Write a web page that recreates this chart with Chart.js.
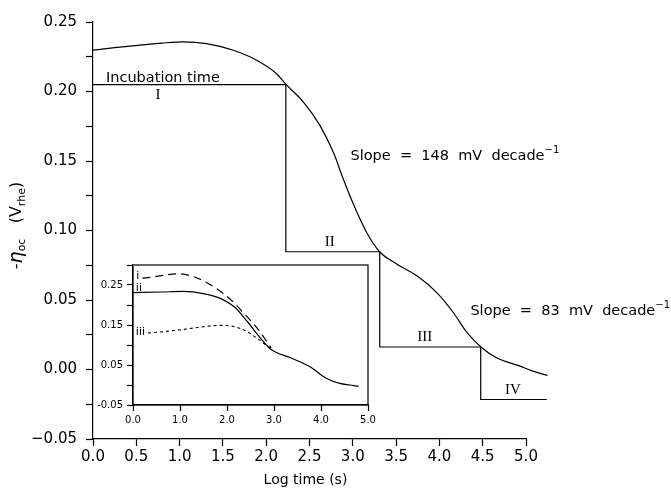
<!DOCTYPE html>
<html>
<head>
<meta charset="utf-8">
<script src="https://cdn.jsdelivr.net/npm/chart.js@4.4.1/dist/chart.umd.min.js"></script>
<style>
    body { margin: 0; background: #fff; }
    #wrap { position: relative; width: 671px; height: 488px; }
    #mainChart { position: absolute; left: 0; top: 0; }
    #insetChart { position: absolute; left: 90px; top: 255px; }
</style>
</head>
<body>
<div id="wrap">
    <canvas id="mainChart" width="671" height="488"></canvas>
    <canvas id="insetChart" width="290" height="175"></canvas>
</div>
<script>
// main curve, log time (s) vs -eta_oc (V_rhe)
const curveX = [0, 0.25, 0.54, 0.8, 1.04, 1.31, 1.62, 1.89, 2.12, 2.22, 2.43, 2.62, 2.78, 2.89, 3.01, 3.16, 3.31, 3.51, 3.74, 3.97, 4.16, 4.32, 4.48, 4.66, 4.93, 5.08, 5.25];
const curveY = [0.2297, 0.2315, 0.2333, 0.2348, 0.2357, 0.2345, 0.2297, 0.2225, 0.2128, 0.2056, 0.1924, 0.1756, 0.1555, 0.137, 0.1185, 0.0986, 0.0847, 0.0758, 0.0674, 0.0553, 0.041, 0.0265, 0.0162, 0.0084, 0.0024, -0.0012, -0.0043];

// stages I - IV
const stepX = [0, 2.227, 2.227, 3.311, 3.311, 4.477, 4.477, 5.24];
const stepY = [0.205, 0.205, 0.0847, 0.0847, 0.0162, 0.0162, -0.0216, -0.0216];

// inset curves i, ii, iii
const iX = [0.2, 0.42, 0.95, 1.31, 1.73, 2.09, 2.4, 2.65, 2.94];
const iY = [0.267, 0.27, 0.278, 0.27, 0.245, 0.212, 0.174, 0.141, 0.093];
const iiX = [0, 0.6, 1.06, 1.52, 1.87, 2.16, 2.44, 2.72, 2.94, 3.35, 3.76, 4.11, 4.4, 4.61, 4.8];
const iiY = [0.231, 0.2325, 0.234, 0.228, 0.216, 0.195, 0.1575, 0.116, 0.089, 0.068, 0.046, 0.017, 0.004, 0.0, -0.003];
const iiiX = [0.32, 0.42, 0.95, 1.45, 1.84, 2.09, 2.37, 2.65, 2.94];
const iiiY = [0.13, 0.131, 0.137, 0.145, 0.149, 0.1475, 0.137, 0.116, 0.089];

// tick values
const mainXTicks = [0, 0.5, 1, 1.5, 2, 2.5, 3, 3.5, 4, 4.5, 5];
const mainYLabels = [-0.05, 0, 0.05, 0.1, 0.15, 0.2, 0.25];
const insetYLabels = [-0.05, 0.05, 0.15, 0.25];

const SANS = '"DejaVu Sans", sans-serif';
const SERIF = '"Liberation Serif", serif';

function toPoints(xs, ys) {
    return xs.map(function(x, i) { return { x: x, y: ys[i] }; });
}

function hasValue(list, v) {
    return list.some(function(t) { return Math.abs(t - v) < 1e-6; });
}

function fmt(v, d) {
    const s = Math.abs(v).toFixed(d);
    return v < -1e-9 ? '\u2212' + s : s;
}

// text with sub / superscript pieces, drawn left to right
function drawPieces(ctx, pieces, x, y) {
    let cx = x;
    pieces.forEach(function(p) {
        ctx.font = p.font;
        ctx.fillText(p.t, cx, y + (p.dy || 0));
        cx += ctx.measureText(p.t).width;
    });
    return cx;
}

function piecesWidth(ctx, pieces) {
    let w = 0;
    pieces.forEach(function(p) {
        ctx.font = p.font;
        w += ctx.measureText(p.t).width;
    });
    return w;
}

const mainText = {
    id: 'mainText',
    afterDraw: function(chart) {
        const ctx = chart.ctx;
        const xs = chart.scales.x;
        const ys = chart.scales.y;
        ctx.save();
        ctx.fillStyle = '#000';
        ctx.textBaseline = 'middle';
        ctx.textAlign = 'left';

        ctx.font = '14.5px ' + SANS;
        ctx.fillText('Incubation time', xs.getPixelForValue(0.15), ys.getPixelForValue(0.2097));

        ctx.textAlign = 'center';
        ctx.font = '15px ' + SERIF;
        ctx.fillText('I', xs.getPixelForValue(0.75), ys.getPixelForValue(0.1977));
        ctx.fillText('II', xs.getPixelForValue(2.735), ys.getPixelForValue(0.0914));
        ctx.fillText('III', xs.getPixelForValue(3.83), ys.getPixelForValue(0.0231));
        ctx.fillText('IV', xs.getPixelForValue(4.85), ys.getPixelForValue(-0.0149));

        ctx.textAlign = 'left';
        const slope1 = [
            { t: 'Slope  =  148  mV  decade', font: '14.5px ' + SANS },
            { t: '\u22121', font: '10px ' + SANS, dy: -6 }
        ];
        drawPieces(ctx, slope1, xs.getPixelForValue(2.973), ys.getPixelForValue(0.1535));
        const slope2 = [
            { t: 'Slope  =  83  mV  decade', font: '14.5px ' + SANS },
            { t: '\u22121', font: '10px ' + SANS, dy: -6 }
        ];
        drawPieces(ctx, slope2, xs.getPixelForValue(4.358), ys.getPixelForValue(0.042));

        // axis titles
        ctx.textAlign = 'center';
        ctx.font = '14px ' + SANS;
        ctx.fillText('Log time (s)', (xs.left + xs.right) / 2 - 4, 480);

        const yTitle = [
            { t: '-', font: '16px ' + SANS },
            { t: '\u03b7', font: 'italic 19px ' + SANS },
            { t: 'oc', font: '11px ' + SANS, dy: 5 },
            { t: '   (V', font: '16px ' + SANS },
            { t: 'rhe', font: '11px ' + SANS, dy: 5 },
            { t: ')', font: '16px ' + SANS }
        ];
        ctx.textAlign = 'left';
        ctx.translate(17, (ys.top + ys.bottom) / 2 - 5);
        ctx.rotate(-Math.PI / 2);
        drawPieces(ctx, yTitle, -piecesWidth(ctx, yTitle) / 2, 0);
        ctx.restore();
    }
};

const insetText = {
    id: 'insetText',
    afterDraw: function(chart) {
        const ctx = chart.ctx;
        const a = chart.chartArea;
        const xs = chart.scales.x;
        const ys = chart.scales.y;
        ctx.save();
        // frame of the inset
        ctx.strokeStyle = '#000';
        ctx.lineWidth = 1.2;
        ctx.strokeRect(a.left, a.top, a.right - a.left, a.bottom - a.top);

        ctx.fillStyle = '#000';
        ctx.font = '11px ' + SANS;
        ctx.textAlign = 'left';
        ctx.textBaseline = 'middle';
        ctx.fillText('i', xs.getPixelForValue(0.07), ys.getPixelForValue(0.2725));
        ctx.fillText('ii', xs.getPixelForValue(0.06), ys.getPixelForValue(0.241));
        ctx.fillText('iii', xs.getPixelForValue(0.06), ys.getPixelForValue(0.1325));
        ctx.restore();
    }
};

function axisStyle(tickLen, width) {
    return {
        grid: { drawOnChartArea: false, drawTicks: true, tickLength: tickLen, color: '#000', tickWidth: width },
        border: { display: true, color: '#000', width: width }
    };
}

function mainChart() {
    const ctx = document.getElementById('mainChart').getContext('2d');
    const yStyle = axisStyle(7, 1.2);
    const xStyle = axisStyle(7, 1.2);
    return new Chart(ctx, {
        type: 'line',
        data: {
            datasets: [
                {
                    data: toPoints(curveX, curveY),
                    borderColor: '#000',
                    borderWidth: 1.2,
                    pointRadius: 0,
                    cubicInterpolationMode: 'monotone',
                    clip: false
                },
                {
                    data: toPoints(stepX, stepY),
                    borderColor: '#000',
                    borderWidth: 1.2,
                    pointRadius: 0,
                    tension: 0,
                    clip: false
                }
            ]
        },
        options: {
            responsive: false,
            animation: false,
            layout: { padding: { left: 0, top: 22, right: 145, bottom: 0 } },
            plugins: { legend: { display: false }, tooltip: { enabled: false } },
            scales: {
                x: {
                    type: 'linear',
                    // range set here so the curve may run past 5.0 like the original
                    afterDataLimits: function(scale) { scale.min = 0; scale.max = 5; },
                    grid: xStyle.grid,
                    border: xStyle.border,
                    afterFit: function(scale) { scale.height = 49; },
                    afterBuildTicks: function(scale) {
                        scale.ticks = mainXTicks.map(function(v) { return { value: v }; });
                    },
                    ticks: {
                        stepSize: 0.5,
                        autoSkip: false,
                        maxRotation: 0,
                        padding: 2,
                        color: '#000',
                        font: { family: SANS, size: 15 },
                        callback: function(v) { return v.toFixed(1); }
                    }
                },
                y: {
                    type: 'linear',
                    min: -0.05,
                    max: 0.25,
                    grid: yStyle.grid,
                    border: yStyle.border,
                    afterFit: function(scale) { scale.width = 93; },
                    ticks: {
                        stepSize: 0.025,
                        autoSkip: false,
                        padding: 9,
                        color: '#000',
                        font: { family: SANS, size: 15 },
                        callback: function(v) { return hasValue(mainYLabels, v) ? fmt(v, 2) : ''; }
                    }
                }
            }
        },
        plugins: [mainText]
    });
}

function insetChart() {
    const ctx = document.getElementById('insetChart').getContext('2d');
    const st = axisStyle(6, 1.2);
    return new Chart(ctx, {
        type: 'line',
        data: {
            datasets: [
                {
                    data: toPoints(iX, iY),
                    borderColor: '#000',
                    borderWidth: 1.2,
                    borderDash: [8, 5],
                    pointRadius: 0,
                    cubicInterpolationMode: 'monotone'
                },
                {
                    data: toPoints(iiX, iiY),
                    borderColor: '#000',
                    borderWidth: 1.2,
                    pointRadius: 0,
                    cubicInterpolationMode: 'monotone'
                },
                {
                    data: toPoints(iiiX, iiiY),
                    borderColor: '#000',
                    borderWidth: 1.1,
                    borderDash: [3, 3],
                    pointRadius: 0,
                    cubicInterpolationMode: 'monotone'
                }
            ]
        },
        options: {
            responsive: false,
            animation: false,
            layout: { padding: { left: 0, top: 10, right: 12, bottom: 0 } },
            plugins: { legend: { display: false }, tooltip: { enabled: false } },
            scales: {
                x: {
                    type: 'linear',
                    min: 0,
                    max: 5,
                    grid: st.grid,
                    border: st.border,
                    afterFit: function(scale) { scale.height = 25; },
                    ticks: {
                        stepSize: 1,
                        autoSkip: false,
                        maxRotation: 0,
                        padding: 3,
                        color: '#000',
                        font: { family: SANS, size: 10 },
                        callback: function(v) { return v.toFixed(1); }
                    }
                },
                y: {
                    type: 'linear',
                    min: -0.05,
                    max: 0.30,
                    grid: st.grid,
                    border: st.border,
                    afterFit: function(scale) { scale.width = 43; },
                    ticks: {
                        stepSize: 0.05,
                        autoSkip: false,
                        padding: 4,
                        color: '#000',
                        font: { family: SANS, size: 10 },
                        callback: function(v) { return hasValue(insetYLabels, v) ? v.toFixed(2) : ''; }
                    }
                }
            }
        },
        plugins: [insetText]
    });
}

mainChart();
insetChart();
</script>
</body>
</html>
